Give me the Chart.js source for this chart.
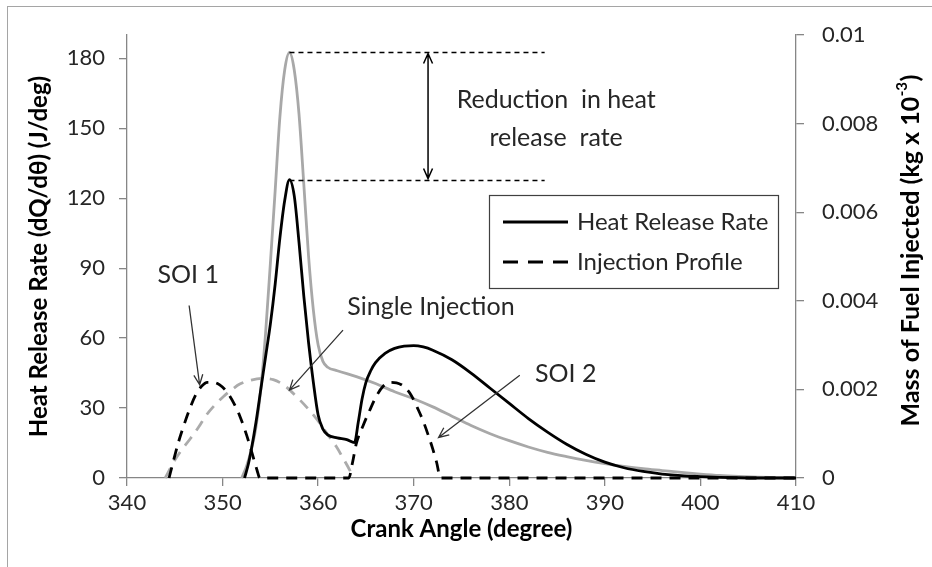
<!DOCTYPE html>
<html>
<head>
<meta charset="utf-8">
<title>Heat release rate and injection profile</title>
<script src="https://cdn.jsdelivr.net/npm/chart.js@4.4.1/dist/chart.umd.min.js"></script>
<style>
  html, body { margin: 0; padding: 0; background: #fff; }
  canvas { display: block; }
</style>
</head>
<body>
<canvas id="hrr" width="932" height="567"></canvas>
<script>
// heat release rate (J/deg) vs crank angle, single injection
var angleSingle = [352, 352.5, 353, 353.5, 354, 354.5, 355, 355.5, 356, 356.5, 357, 357.5, 358, 358.5, 359, 359.5, 360, 360.5, 361,
    362, 364, 366, 368, 370, 372, 374, 376, 378, 380, 382, 384, 386, 388, 390, 392, 394, 396, 398, 400, 402, 404, 406, 408, 410];
var hrrSingle = [0, 5, 12, 22, 38, 62, 92, 123, 155, 175, 182.5, 175, 156, 126, 95, 72, 57, 50, 47.5,
    46, 43.5, 40.5, 37, 34, 30.5, 26.5, 22.5, 19, 16, 13.3, 11, 9.2, 7.6, 6.2, 5, 4, 3.2, 2.4, 1.7, 1.1, 0.7, 0.4, 0.2, 0];

// heat release rate, split injection
var angleSplit = [352.3, 352.7, 353, 353.5, 354, 354.5, 355, 355.5, 356, 356.5, 357, 357.5, 358, 358.5, 359, 359.5, 360, 360.5, 361,
    362, 363, 363.8, 364.2, 364.6, 365, 365.5, 366, 367, 368, 369, 370, 371, 372, 374, 376, 378, 380, 382, 384, 386, 388, 390,
    392, 394, 396, 398, 400, 402, 404, 406, 410];
var hrrSplit = [0, 6, 12, 24, 38, 52, 66, 83, 103, 119, 128, 121, 101, 78, 58, 41, 27, 21, 18.5,
    17.2, 16.5, 15.2, 24, 34, 41, 46, 49.5, 53.5, 55.6, 56.6, 56.8, 56.2, 54.8, 50.7, 45, 38.5, 32, 25.5, 19.7, 14.5, 10.2, 6.8,
    4.4, 2.8, 1.7, 1, 0.6, 0.3, 0.1, 0, 0];

// injected fuel mass (kg x 10^-3), single injection
var angleInjSingle = [344, 344.8, 345.6, 346.6, 347.5, 348.3, 349.2, 350.1, 351, 351.8, 353, 354.3, 355.3, 356.4, 357.2, 358.1,
    359.2, 360.2, 361, 361.9, 362.6, 363.3, 363.7];
var massInjSingle = [0, 0.00033, 0.0006, 0.00088, 0.00115, 0.00142, 0.00165, 0.00184, 0.002, 0.00212, 0.00221, 0.00225, 0.00222,
    0.0021, 0.00195, 0.00176, 0.0015, 0.00123, 0.00098, 0.00071, 0.00045, 0.00018, 0];

// injected fuel mass, split injection (SOI 1 and SOI 2)
var angleInjSplit = [344.4, 344.9, 345.4, 346, 346.6, 347.2, 347.8, 348.4, 349, 349.7, 350.5, 351.2, 351.8, 352.5, 353.1, 353.6, 353.9,
    363.2, 363.6, 364, 364.7, 365.4, 366.1, 366.8, 367.5, 368.2, 369, 369.7, 370.5, 371, 371.5, 372, 372.4, 372.8, 410];
var massInjSplit = [0, 0.00042, 0.00082, 0.00122, 0.00158, 0.00188, 0.00207, 0.00216, 0.00216, 0.0021, 0.00193, 0.00168, 0.0014, 0.00098, 0.00055, 0.00018, 0,
    0, 0.00035, 0.00078, 0.00118, 0.00153, 0.00185, 0.00207, 0.00216, 0.00215, 0.00206, 0.00188, 0.00153, 0.00128, 0.00098, 0.00065, 0.00035, 0, 0];

// axis ticks
var angleTicks = [340, 350, 360, 370, 380, 390, 400, 410];
var hrrTicks = [0, 30, 60, 90, 120, 150, 180];
var massTicks = [0, 0.002, 0.004, 0.006, 0.008, 0.01];
var massTickLabels = ['0', '0.002', '0.004', '0.006', '0.008', '0.01'];

var FONT = 'Lato, "Liberation Sans", sans-serif';
var TEXT = '#262626';
var AXIS = '#868686';

function points(xs, ys) {
    return xs.map(function (x, i) { return { x: x, y: ys[i] }; });
}

function setTicks(values) {
    return function (scale) {
        scale.ticks = values.map(function (v) { return { value: v }; });
    };
}

function arrow(ctx, x1, y1, x2, y2, bothEnds) {
    var len = 11, spread = 0.42;
    ctx.beginPath();
    ctx.moveTo(x1, y1);
    ctx.lineTo(x2, y2);
    var heads = bothEnds ? [[x2, y2, x1, y1], [x1, y1, x2, y2]] : [[x2, y2, x1, y1]];
    heads.forEach(function (h) {
        var a = Math.atan2(h[3] - h[1], h[2] - h[0]);
        ctx.moveTo(h[0] + len * Math.cos(a + spread), h[1] + len * Math.sin(a + spread));
        ctx.lineTo(h[0], h[1]);
        ctx.lineTo(h[0] + len * Math.cos(a - spread), h[1] + len * Math.sin(a - spread));
    });
    ctx.stroke();
}

// frame and white background
var framePlugin = {
    id: 'frame',
    beforeDraw: function (chart) {
        var ctx = chart.ctx;
        ctx.save();
        ctx.fillStyle = '#fff';
        ctx.fillRect(0, 0, chart.width, chart.height);
        ctx.strokeStyle = '#a5a5a5';
        ctx.lineWidth = 1;
        ctx.strokeRect(7.5, 6.5, chart.width + 20, chart.height + 20);
        ctx.restore();
    }
};

// peak reduction markers, callouts and legend box
var notesPlugin = {
    id: 'notes',
    afterDatasetsDraw: function (chart) {
        var ctx = chart.ctx, x = chart.scales.x, y = chart.scales.y;
        var px = function (v) { return x.getPixelForValue(v); };
        var py = function (v) { return y.getPixelForValue(v); };

        var highPeak = Math.max.apply(null, hrrSingle);
        var lowPeak = Math.max.apply(null, hrrSplit);
        var peakAngle = angleSingle[hrrSingle.indexOf(highPeak)];

        ctx.save();
        ctx.strokeStyle = '#000';
        ctx.lineWidth = 1.3;
        ctx.setLineDash([5, 4]);
        [highPeak, lowPeak].forEach(function (v) {
            ctx.beginPath();
            ctx.moveTo(px(peakAngle), Math.round(py(v)) + 0.5);
            ctx.lineTo(px(383.7), Math.round(py(v)) + 0.5);
            ctx.stroke();
        });
        ctx.setLineDash([]);
        ctx.lineWidth = 1.5;
        arrow(ctx, px(371.5), py(highPeak) + 1, px(371.5), py(lowPeak) - 1, true);

        ctx.strokeStyle = '#333';
        ctx.lineWidth = 1.3;
        arrow(ctx, px(346.5), py(74), px(347.6), py(40));
        arrow(ctx, px(362.6), py(63.4), px(357), py(37.7));
        arrow(ctx, px(381.1), py(44.1), px(372.6), py(17.4));

        ctx.fillStyle = TEXT;
        ctx.font = '25px ' + FONT;
        ctx.textAlign = 'center';
        ctx.textBaseline = 'middle';
        ctx.fillText('SOI 1', px(346.4), py(87));
        ctx.fillText('Single Injection', px(371.8), py(73.3));
        ctx.fillText('SOI 2', px(385.9), py(44.6));
        ctx.fillText('Reduction  in heat', px(384.9), py(162));
        ctx.fillText('release  rate', px(384.9), py(146));

        // legend
        var area = chart.chartArea;
        var bx = area.right - 307, by = area.top + 160, bw = 289, bh = 93;
        ctx.fillStyle = '#fff';
        ctx.fillRect(bx, by, bw, bh);
        ctx.strokeStyle = '#404040';
        ctx.lineWidth = 1.2;
        ctx.strokeRect(bx + 0.5, by + 0.5, bw, bh);
        ctx.font = '24px ' + FONT;
        var rows = chart.data.datasets.filter(function (d) { return d.inLegend; });
        rows.forEach(function (d, i) {
            var ly = by + 27 + i * 40;
            ctx.strokeStyle = d.borderColor;
            ctx.lineWidth = d.borderWidth;
            ctx.setLineDash(d.borderDash ? [15, 10] : []);
            ctx.beginPath();
            ctx.moveTo(bx + 14, ly);
            ctx.lineTo(bx + 79, ly);
            ctx.stroke();
            ctx.setLineDash([]);
            ctx.fillStyle = TEXT;
            ctx.textAlign = 'left';
            ctx.fillText(d.label, bx + 88, ly);
        });
        ctx.restore();
    },
    afterDraw: function (chart) {
        // right axis title with superscript exponent
        var ctx = chart.ctx;
        var main = 'Mass of Fuel Injected (kg x 10', sup = '-3', tail = ')';
        ctx.save();
        ctx.translate(911, 251);
        ctx.rotate(-Math.PI / 2);
        ctx.fillStyle = '#000';
        ctx.textBaseline = 'middle';
        ctx.textAlign = 'left';
        ctx.font = 'bold 25px ' + FONT;
        var w1 = ctx.measureText(main).width, w3 = ctx.measureText(tail).width;
        ctx.font = 'bold 15px ' + FONT;
        var w2 = ctx.measureText(sup).width;
        var x0 = -(w1 + w2 + w3) / 2;
        ctx.font = 'bold 25px ' + FONT;
        ctx.fillText(main, x0, 0);
        ctx.fillText(tail, x0 + w1 + w2 + 1, 0);
        ctx.font = 'bold 15px ' + FONT;
        ctx.fillText(sup, x0 + w1 + 0.5, -9);
        ctx.restore();
    }
};

function draw() {
    var tickFont = { family: FONT, size: 22 };
    var titleFont = { family: FONT, size: 24, weight: 'bold' };
    var grid = { drawOnChartArea: false, tickLength: 8, color: AXIS, lineWidth: 1.3 };
    var border = { color: AXIS, width: 1.3 };

    new Chart(document.getElementById('hrr'), {
        type: 'line',
        data: {
            datasets: [
                { label: 'Heat Release Rate', data: points(angleSplit, hrrSplit), yAxisID: 'y',
                  borderColor: '#000', borderWidth: 2.8, order: 1, inLegend: true },
                { label: 'Injection Profile', data: points(angleInjSplit, massInjSplit), yAxisID: 'y2',
                  borderColor: '#000', borderWidth: 2.8, borderDash: [11, 8], order: 2, inLegend: true },
                { label: 'Injection Profile (single)', data: points(angleInjSingle, massInjSingle), yAxisID: 'y2',
                  borderColor: '#ababab', borderWidth: 2.8, borderDash: [11, 8], order: 3 },
                { label: 'Heat Release Rate (single)', data: points(angleSingle, hrrSingle), yAxisID: 'y',
                  borderColor: '#a8a8a8', borderWidth: 2.8, order: 4 }
            ]
        },
        options: {
            responsive: false,
            animation: false,
            devicePixelRatio: 1,
            layout: { padding: { top: 35 } },
            elements: {
                point: { radius: 0 },
                line: { cubicInterpolationMode: 'monotone', fill: false }
            },
            datasets: { line: { clip: 6 } },
            plugins: { legend: { display: false }, tooltip: { enabled: false } },
            scales: {
                x: {
                    type: 'linear', min: 340, max: 410,
                    afterBuildTicks: setTicks(angleTicks),
                    afterFit: function (s) { s.height = 89; },
                    grid: grid, border: border,
                    ticks: { font: tickFont, color: TEXT, padding: 4, maxRotation: 0 },
                    title: { display: true, text: 'Crank Angle (degree)', font: titleFont, color: '#000', padding: { top: 0, bottom: 23 } }
                },
                y: {
                    position: 'left', min: 0, max: 190,
                    afterBuildTicks: setTicks(hrrTicks),
                    afterFit: function (s) { s.width = 127; },
                    grid: grid, border: border,
                    ticks: { font: tickFont, color: TEXT, padding: 14 },
                    title: { display: true, text: 'Heat Release Rate (dQ/dθ) (J/deg)', font: titleFont, color: '#000', padding: { top: 25, bottom: 0 } }
                },
                y2: {
                    position: 'right', min: 0, max: 0.01,
                    afterBuildTicks: setTicks(massTicks),
                    afterFit: function (s) { s.width = 136; },
                    grid: grid, border: border,
                    ticks: { font: tickFont, color: TEXT, padding: 18,
                             callback: function (v, i) { return massTickLabels[i]; } }
                }
            }
        },
        plugins: [framePlugin, notesPlugin]
    });
}

if (document.fonts && document.fonts.load) {
    Promise.all([document.fonts.load('22px Lato'), document.fonts.load('bold 24px Lato')]).then(draw, draw);
} else {
    draw();
}
</script>
</body>
</html>
